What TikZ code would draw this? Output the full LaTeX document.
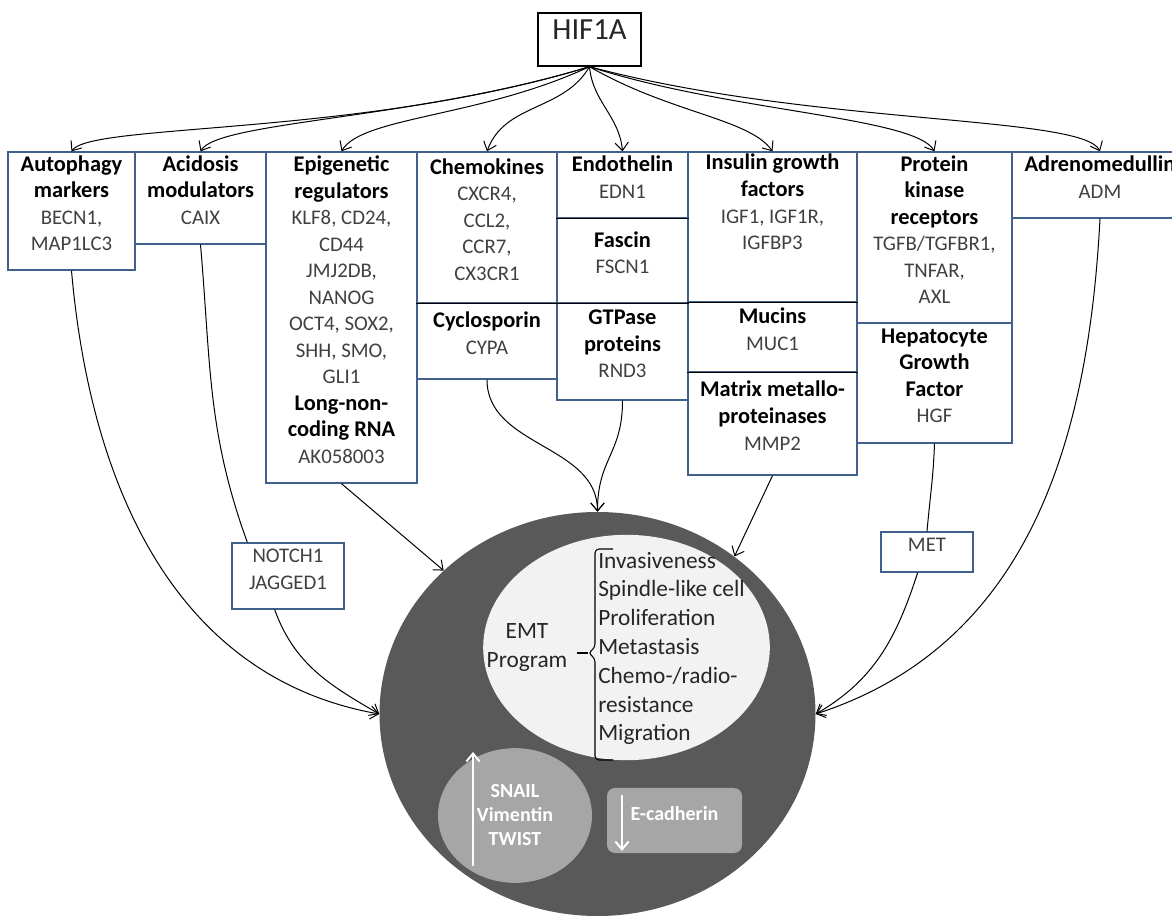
\documentclass[tikz,border=0pt]{standalone}
\usepackage{fontspec}
\setmainfont{Carlito}
\usetikzlibrary{arrows.meta,fit,shapes.geometric}

\definecolor{BoxBlue}{HTML}{41618C}
\definecolor{NameGray}{HTML}{404040}
\definecolor{TextDark}{HTML}{262626}
\definecolor{CellDark}{HTML}{595959}
\definecolor{CoreLight}{HTML}{F2F2F2}
\definecolor{MarkGray}{HTML}{A6A6A6}

\newcommand{\BoxFont}{\fontsize{15.6}{19.9}\selectfont}
\newcommand{\CoreFont}{\fontsize{17.5}{21.6}\selectfont}
\newcommand{\MarkFont}{\fontsize{15}{18}\selectfont\bfseries}
\newcommand{\hd}[1]{{\fontsize{16.8}{19.9}\selectfont\color{black}\bfseries #1}}

\tikzset{
    GeneBox/.style={rectangle, draw=BoxBlue, line width=1pt, fill=white, inner sep=0pt,
        align=center, font=\BoxFont, text=NameGray},
    MarkShape/.style={fill=MarkGray, inner sep=0pt, align=center, font=\MarkFont, text=white}
}

\begin{document}
\begin{tikzpicture}[x=0.75pt,y=0.75pt]
\useasboundingbox (0,0) rectangle (1172,-919);

% Root
\node (hif) [GeneBox, draw=black, fit={(538,-13) (641,-66)},
    font=\fontsize{23}{28}\selectfont, text=TextDark] {HIF1A};

% Top row of boxes
\node (autoph) [GeneBox, fit={(8,-152) (135,-270)}]
    {\hd{Autophagy}\\\hd{markers}\\BECN1,\\MAP1LC3};
\node (acid) [GeneBox, fit={(135,-152) (266,-244)}]
    {\hd{Acidosis}\\\hd{modulators}\\CAIX};
\node (epig) [GeneBox, fit={(266,-152) (417,-483)}]
    {\hd{Epigenetic}\\\hd{regulators}\\KLF8, CD24,\\CD44\\JMJ2DB,\\NANOG\\OCT4, SOX2,\\SHH, SMO,\\GLI1\\\hd{Long-non-}\\\hd{coding RNA}\\AK058003};
\node (chemo) [GeneBox, fit={(417,-152) (557,-303)}]
    {\hd{Chemokines}\\CXCR4,\\CCL2,\\CCR7,\\CX3CR1};
\node (cyclo) [GeneBox, fit={(417,-303) (557,-379)}]
    {\hd{Cyclosporin}\\CYPA};
\node (endo) [GeneBox, fit={(557,-152) (688,-218)}]
    {\hd{Endothelin}\\EDN1};
\node (fasc) [GeneBox, fit={(557,-218) (688,-303)}]
    {\hd{Fascin}\\FSCN1};
\node (gtp) [GeneBox, fit={(557,-303) (688,-400)}]
    {\hd{GTPase}\\\hd{proteins}\\RND3};
\node (insul) [GeneBox, fit={(688,-152) (857,-302)}]
    {\hd{Insulin growth}\\\hd{factors}\\IGF1, IGF1R,\\IGFBP3\\\strut};
\node (mucin) [GeneBox, fit={(688,-302) (857,-372)}]
    {\hd{Mucins}\\MUC1};
\node (mmp) [GeneBox, fit={(688,-372) (857,-475)}]
    {\hd{Matrix metallo-}\\\hd{proteinases}\\MMP2};
\node (pkr) [GeneBox, fit={(857,-152) (1012,-323)}]
    {\hd{Protein}\\\hd{kinase}\\\hd{receptors}\\TGFB/TGFBR1,\\TNFAR,\\AXL};
\node (hgf) [GeneBox, fit={(857,-323) (1012,-443)}]
    {\hd{Hepatocyte}\\\hd{Growth}\\\hd{Factor}\\HGF};
\node (adm) [GeneBox, fit={(1012,-152) (1188,-218)}]
    {\hd{Adrenomedullin}\\ADM};

% Dark dividers between stacked boxes
\draw [line width=1pt] (chemo.south west) -- (fasc.south east);
\draw [line width=1pt] (endo.south west) -- (endo.south east);
\draw [line width=1pt] (insul.south west) -- (insul.south east);
\draw [line width=1pt] (mucin.south west) -- (mucin.south east);

% Intermediate boxes
\node (notch) [GeneBox, fit={(232,-543) (344,-609)}] {NOTCH1\\JAGGED1};
\node (met) [GeneBox, fit={(881,-532) (973,-572)}] {MET};

% Cell with EMT program
\node (cell) [ellipse, fill=CellDark, inner sep=0pt, minimum width=327pt, minimum height=303pt]
    at (597.5,-714) {};
\node (core) [ellipse, fill=CoreLight, inner sep=0pt, minimum width=215pt, minimum height=169pt]
    at (626.5,-647.5) {};
\node (emtlabel) [align=center, font=\CoreFont, text=TextDark, inner sep=0pt]
    at (527,-647.5) {EMT\\Program};
\node (emtlist) [align=left, anchor=west, font=\CoreFont, text=TextDark, inner sep=0pt]
    at (598,-648.5) {Invasiveness\\Spindle-like cell\\Proliferation\\Metastasis\\Chemo-/radio-\\resistance\\Migration};
\draw [line width=0.8pt, rounded corners=3pt] (613,-549) -- (595,-549) -- (595,-648)
    -- (588,-653) -- (595,-658) -- (595,-760) -- (613,-760);
\draw [line width=0.8pt] (577,-653) -- (588,-653);

% Up and down regulated markers
\node (upreg) [MarkShape, ellipse, minimum width=115.5pt, minimum height=101pt]
    at (515,-815.5) {SNAIL\\Vimentin\\TWIST};
\node (downreg) [MarkShape, rounded corners=6pt, fit={(607,-788) (742,-853)}] {E-cadherin};
\coordinate (upFrom) at (473,-866);
\coordinate (upTo) at (473,-752);
\coordinate (downFrom) at (622,-795);
\coordinate (downTo) at (622,-851);
\draw [white, line width=1.5pt, -{Straight Barb[length=6pt,width=10pt]}] (upFrom) -- (upTo);
\draw [white, line width=1.5pt, -{Straight Barb[length=6pt,width=10pt]}] (downFrom) -- (downTo);

\begin{scope}[>={Straight Barb[length=6pt,width=10pt]},
              every edge/.style={draw=black, line width=0.75pt}]
    % From HIF1A to the groups
    \path [->] (hif.south) edge [out=197, in=55, out distance=180pt, in distance=26pt] (autoph.north);
    \path [->] (hif.south) edge [out=197, in=60, out distance=135pt, in distance=26pt] (acid.north);
    \path [->] (hif.south) edge [out=205, in=60, out distance=90pt, in distance=30pt] (epig.north);
    \path [->] (hif.south) edge [out=240, in=70] (chemo.north);
    \path [->] (hif.south) edge [out=-85, in=95] (endo.north);
    \path [->] (hif.south) edge [out=-30, in=125, out distance=70pt, in distance=30pt] (insul.north);
    \path [->] (hif.south) edge [out=-18, in=120, out distance=110pt, in distance=30pt] (pkr.north);
    \path [->] (hif.south) edge [out=-15, in=115, out distance=170pt, in distance=30pt] (adm.north);

    % From the groups to the cell
    \path [->] (autoph.south) edge [out=-85, in=170] (cell.west);
    \path [-] (acid.south) edge [out=-85, in=110] ([xshift=12pt]notch.north west);
    \path [->] ([xshift=-10pt]notch.south) edge [out=-70, in=150] (cell.west);
    \path [->] (epig.south) edge (cell.137.7);
    \path [->] (cyclo.south) edge [out=-90, in=90] (cell.north);
    \path [->] (gtp.south) edge [out=-90, in=90, looseness=1.2] (cell.north);
    \path [->] (mmp.south) edge (cell.49.2);
    \path [-] (hgf.south) edge [out=-92, in=85] (met.north);
    \path [->] ([xshift=-7pt]met.south) edge [out=-108, in=30] (cell.east);
    \path [->] (adm.south) edge [out=-93, in=18] (cell.east);
\end{scope}

\end{tikzpicture}
\end{document}
